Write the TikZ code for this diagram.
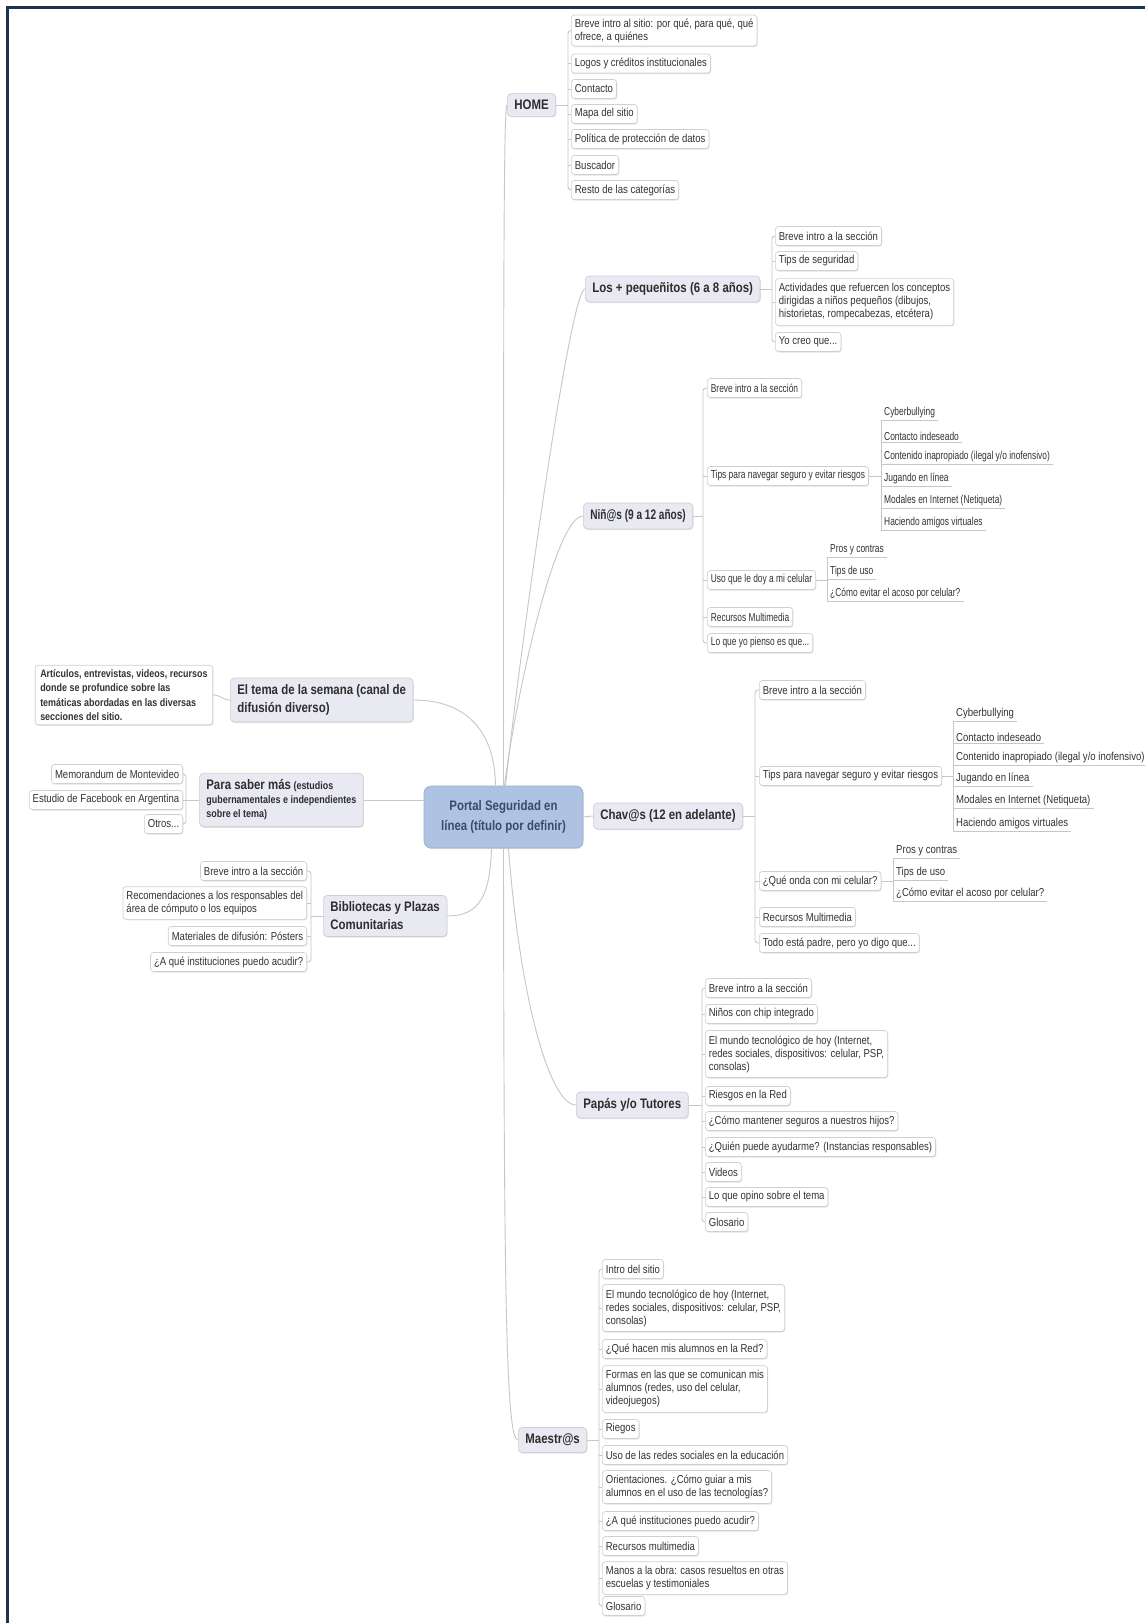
\documentclass[tikz,border=0pt]{standalone}
\usepackage{fontspec}
\setmainfont{Liberation Sans}[FakeStretch=0.83]
\newfontfamily\nfont{Liberation Sans}[FakeStretch=0.73]
\usetikzlibrary{shadows}
\definecolor{conncol}{HTML}{C6C6CC}
\definecolor{leafline}{HTML}{D0D0D0}
\definecolor{leaftext}{HTML}{333333}
\definecolor{mainfill}{HTML}{E8E9F1}
\definecolor{mainline}{HTML}{CDCED8}
\definecolor{cenfill}{HTML}{AEC3E3}
\definecolor{centext}{HTML}{3A4A68}
\definecolor{framecol}{HTML}{1F3454}
\begin{document}
\begin{tikzpicture}[x=1pt,y=-1pt,
  conn/.style={draw=conncol, line width=0.9pt},
  softshadow/.style={drop shadow={shadow xshift=0.7pt, shadow yshift=-1.1pt, opacity=0.16, fill=black!70}},
  leaf/.style={draw=leafline, fill=white, line width=0.7pt, rounded corners=3pt,
    inner xsep=3.5pt, inner ysep=3.5pt, minimum height=19pt, align=left,
    text=leaftext, font=\fontsize{11.5}{13}\selectfont, softshadow},
  nleaf/.style={leaf, font=\nfont\fontsize{11.5}{13}\selectfont},
  boldleaf/.style={leaf, font=\bfseries\fontsize{10.8}{14.5}\selectfont},
  sub/.style={inner xsep=3pt, inner ysep=1.5pt, anchor=south west, text=leaftext,
    font=\fontsize{11.5}{13}\selectfont},
  nsub/.style={sub, font=\nfont\fontsize{11.5}{13}\selectfont},
  topic/.style={draw=mainline, fill=mainfill, line width=0.7pt, rounded corners=4pt,
    inner xsep=7pt, inner ysep=6.5pt, align=left, text=black!82,
    font=\bfseries\fontsize{13.8}{18}\selectfont, softshadow},
  central/.style={fill=cenfill, draw=cenfill!88!black, line width=0.6pt, rounded corners=7pt,
    minimum width=159pt, minimum height=62pt, align=center, text=centext,
    font=\bfseries\fontsize{13.8}{20}\selectfont, softshadow}
]
\useasboundingbox (0,0) rectangle (1145,1623);
\fill[white] (0,0) rectangle (1145,1623);
\draw[framecol, line width=3pt] (7.5,1623) -- (7.5,7.5) -- (1145,7.5);

% ---------- central ----------
\node[central] (ce) at (503.5,817) {Portal Seguridad en\\línea (título por definir)};

% ---------- main topics ----------
\node[topic, anchor=west] (home) at (507,105) {HOME};
\node[topic, anchor=west] (lp) at (585,289) {Los + pequeñitos (6 a 8 años)};
\node[topic, anchor=west, font=\nfont\bfseries\fontsize{13.8}{18}\selectfont] (ni) at (583,516) {Niñ@s (9 a 12 años)};
\node[topic, anchor=west] (ch) at (593,816) {Chav@s (12 en adelante)};
\node[topic, anchor=west] (pa) at (576,1105) {Papás y/o Tutores};
\node[topic, anchor=west] (ma) at (518,1440) {Maestr@s};
\node[topic, anchor=west] (te) at (230,700) {El tema de la semana (canal de\\difusión diverso)};
\node[topic, anchor=west, font=\bfseries\fontsize{10.8}{14}\selectfont] (ps) at (199,800)
  {{\fontsize{13.8}{14}\selectfont Para saber más} (estudios\\gubernamentales e independientes\\sobre el tema)};
\node[topic, anchor=west] (bi) at (323,916) {Bibliotecas y Plazas\\Comunitarias};

% ---------- main connectors ----------
\draw[conn] (ce.north) .. controls (503.5,300) and (503.5,105) .. (home.west);
\draw[conn] ([xshift=2pt]ce.north) .. controls (520,650) and (570,289) .. (lp.west);
\draw[conn] ([xshift=1pt]ce.north) .. controls (515,700) and (555,516) .. (ni.west);
\draw[conn] ([xshift=-8pt]ce.north) .. controls (495,730) and (465,700) .. (te.east);
\draw[conn] (ps.east) -- (ps.east -| ce.west);
\draw[conn] (ce.east) -- (ch.west);
\draw[conn] ([xshift=-12pt]ce.south) .. controls (490,895) and (480,916) .. (bi.east);
\draw[conn] ([xshift=5pt]ce.south) .. controls (520,1000) and (550,1105) .. (pa.west);
\draw[conn] (ce.south) .. controls (504,1300) and (506,1440) .. (ma.west);

% ---------- HOME ----------
\node[leaf, anchor=west] (h1) at (571,30.5) {Breve intro al sitio: por qué, para qué, qué\\ofrece, a quiénes};
\node[leaf, anchor=west] (h2) at (571,63.5) {Logos y créditos institucionales};
\node[leaf, anchor=west] (h3) at (571,89) {Contacto};
\node[leaf, anchor=west] (h4) at (571,114) {Mapa del sitio};
\node[leaf, anchor=west] (h5) at (571,139) {Política de protección de datos};
\node[leaf, anchor=west] (h6) at (571,165) {Buscador};
\node[leaf, anchor=west] (h7) at (571,190) {Resto de las categorías};
\coordinate (hv) at (568,105);
\draw[conn] (home.east) -- (hv);
\draw[conn, rounded corners=3pt] (h1.west) -- (h1.west -| hv) -- (h7.west -| hv) -- (h7.west);
\foreach \n in {h2,h3,h4,h5,h6} \draw[conn] (\n.west) -- (\n.west -| hv);

% ---------- Los + pequenitos ----------
\node[leaf, anchor=west] (l1) at (775,236) {Breve intro a la sección};
\node[leaf, anchor=west] (l2) at (775,261) {Tips de seguridad};
\node[leaf, anchor=west, inner ysep=5pt] (l3) at (775,302) {Actividades que refuercen los conceptos\\dirigidas a niños pequeños (dibujos,\\historietas, rompecabezas, etcétera)};
\node[leaf, anchor=west] (l4) at (775,342) {Yo creo que...};
\coordinate (lv) at (772,289);
\draw[conn] (lp.east) -- (lv);
\draw[conn, rounded corners=3pt] (l1.west) -- (l1.west -| lv) -- (l4.west -| lv) -- (l4.west);
\foreach \n in {l2,l3} \draw[conn] (\n.west) -- (\n.west -| lv);

% ---------- Nin@s ----------
\node[nleaf, anchor=west] (n1) at (707,388) {Breve intro a la sección};
\node[nleaf, anchor=west] (n2) at (707,476) {Tips para navegar seguro y evitar riesgos};
\node[nleaf, anchor=west] (n3) at (707,580) {Uso que le doy a mi celular};
\node[nleaf, anchor=west] (n4) at (707,617) {Recursos Multimedia};
\node[nleaf, anchor=west] (n5) at (707,643) {Lo que yo pienso es que...};
\coordinate (nv) at (703,516);
\draw[conn] (ni.east) -- (nv);
\draw[conn, rounded corners=3pt] (n1.west) -- (n1.west -| nv) -- (n5.west -| nv) -- (n5.west);
\foreach \n in {n2,n3,n4} \draw[conn] (\n.west) -- (\n.west -| nv);

\node[nsub] (n21) at (881,420) {Cyberbullying};
\node[nsub] (n22) at (881,442) {Contacto indeseado};
\node[nsub] (n23) at (881,464) {Contenido inapropiado (ilegal y/o inofensivo)};
\node[nsub] (n24) at (881,486) {Jugando en línea};
\node[nsub] (n25) at (881,508) {Modales en Internet (Netiqueta)};
\node[nsub] (n26) at (881,530) {Haciendo amigos virtuales};
\draw[conn] (n2.east) -- (n2.east -| n21.south west);
\draw[conn] (n21.south west) -- (n26.south west);
\foreach \n in {n21,n22,n23,n24,n25,n26} \draw[conn] (\n.south west) -- (\n.south east);

\node[nsub] (n31) at (827,557) {Pros y contras};
\node[nsub] (n32) at (827,579) {Tips de uso};
\node[nsub] (n33) at (827,601) {¿Cómo evitar el acoso por celular?};
\draw[conn] (n3.east) -- (n3.east -| n31.south west);
\draw[conn] (n31.south west) -- (n33.south west);
\foreach \n in {n31,n32,n33} \draw[conn] (\n.south west) -- (\n.south east);

% ---------- Chav@s ----------
\node[leaf, anchor=west] (c1) at (759,690) {Breve intro a la sección};
\node[leaf, anchor=west] (c2) at (759,776) {Tips para navegar seguro y evitar riesgos};
\node[leaf, anchor=west] (c3) at (759,881) {¿Qué onda con mi celular?};
\node[leaf, anchor=west] (c4) at (759,917) {Recursos Multimedia};
\node[leaf, anchor=west] (c5) at (759,943) {Todo está padre, pero yo digo que...};
\coordinate (cv) at (755,816);
\draw[conn] (ch.east) -- (cv);
\draw[conn, rounded corners=3pt] (c1.west) -- (c1.west -| cv) -- (c5.west -| cv) -- (c5.west);
\foreach \n in {c2,c3,c4} \draw[conn] (\n.west) -- (\n.west -| cv);

\node[sub] (c21) at (953,721) {Cyberbullying};
\node[sub] (c22) at (953,743) {Contacto indeseado};
\node[sub] (c23) at (953,765) {Contenido inapropiado (ilegal y/o inofensivo)};
\node[sub] (c24) at (953,786) {Jugando en línea};
\node[sub] (c25) at (953,808) {Modales en Internet (Netiqueta)};
\node[sub] (c26) at (953,831) {Haciendo amigos virtuales};
\draw[conn] (c2.east) -- (c2.east -| c21.south west);
\draw[conn] (c21.south west) -- (c26.south west);
\foreach \n in {c21,c22,c23,c24,c25,c26} \draw[conn] (\n.south west) -- (\n.south east);

\node[sub] (c31) at (893,858) {Pros y contras};
\node[sub] (c32) at (893,880) {Tips de uso};
\node[sub] (c33) at (893,901) {¿Cómo evitar el acoso por celular?};
\draw[conn] (c3.east) -- (c3.east -| c31.south west);
\draw[conn] (c31.south west) -- (c33.south west);
\foreach \n in {c31,c32,c33} \draw[conn] (\n.south west) -- (\n.south east);

% ---------- Papas ----------
\node[leaf, anchor=west] (p1) at (705,988) {Breve intro a la sección};
\node[leaf, anchor=west] (p2) at (705,1014) {Niños con chip integrado};
\node[leaf, anchor=west, inner ysep=5pt] (p3) at (705,1054) {El mundo tecnológico de hoy (Internet,\\redes sociales, dispositivos: celular, PSP,\\consolas)};
\node[leaf, anchor=west] (p4) at (705,1096) {Riesgos en la Red};
\node[leaf, anchor=west] (p5) at (705,1121) {¿Cómo mantener seguros a nuestros hijos?};
\node[leaf, anchor=west] (p6) at (705,1147) {¿Quién puede ayudarme? (Instancias responsables)};
\node[leaf, anchor=west] (p7) at (705,1172) {Videos};
\node[leaf, anchor=west] (p8) at (705,1197) {Lo que opino sobre el tema};
\node[leaf, anchor=west] (p9) at (705,1222) {Glosario};
\coordinate (pv) at (702,1105);
\draw[conn] (pa.east) -- (pv);
\draw[conn, rounded corners=3pt] (p1.west) -- (p1.west -| pv) -- (p9.west -| pv) -- (p9.west);
\foreach \n in {p2,p3,p4,p5,p6,p7,p8} \draw[conn] (\n.west) -- (\n.west -| pv);

% ---------- Maestr@s ----------
\node[leaf, anchor=west] (m1) at (602,1269) {Intro del sitio};
\node[leaf, anchor=west, inner ysep=5pt] (m2) at (602,1308) {El mundo tecnológico de hoy (Internet,\\redes sociales, dispositivos: celular, PSP,\\consolas)};
\node[leaf, anchor=west] (m3) at (602,1349) {¿Qué hacen mis alumnos en la Red?};
\node[leaf, anchor=west, inner ysep=5pt] (m4) at (602,1389) {Formas en las que se comunican mis\\alumnos (redes, uso del celular,\\videojuegos)};
\node[leaf, anchor=west] (m5) at (602,1429) {Riegos};
\node[leaf, anchor=west] (m6) at (602,1455) {Uso de las redes sociales en la educación};
\node[leaf, anchor=west, inner ysep=4.5pt] (m7) at (602,1487) {Orientaciones. ¿Cómo guiar a mis\\alumnos en el uso de las tecnologías?};
\node[leaf, anchor=west] (m8) at (602,1521) {¿A qué instituciones puedo acudir?};
\node[leaf, anchor=west] (m9) at (602,1546) {Recursos multimedia};
\node[leaf, anchor=west, inner ysep=4.5pt] (m10) at (602,1578) {Manos a la obra: casos resueltos en otras\\escuelas y testimoniales};
\node[leaf, anchor=west] (m11) at (602,1606) {Glosario};
\coordinate (mv) at (599,1440);
\draw[conn] (ma.east) -- (mv);
\draw[conn, rounded corners=3pt] (m1.west) -- (m1.west -| mv) -- (m11.west -| mv) -- (m11.west);
\foreach \n in {m2,m3,m4,m5,m6,m7,m8,m9,m10} \draw[conn] (\n.west) -- (\n.west -| mv);

% ---------- El tema de la semana ----------
\node[boldleaf, anchor=east, inner ysep=4pt, inner xsep=5pt] (ta) at (213,695) {Artículos, entrevistas, videos, recursos\\donde se profundice sobre las\\temáticas abordadas en las diversas\\secciones del sitio.};
\draw[conn] (te.west) .. controls (222,700) and (221,695) .. (ta.east);

% ---------- Para saber mas ----------
\node[leaf, anchor=east] (ps1) at (183,774) {Memorandum de Montevideo};
\node[leaf, anchor=east] (ps2) at (183,800) {Estudio de Facebook en Argentina};
\node[leaf, anchor=east] (ps3) at (183,824) {Otros...};
\coordinate (psv) at (186,800);
\draw[conn] (ps.west) -- (psv);
\draw[conn, rounded corners=3pt] (ps1.east) -- (ps1.east -| psv) -- (ps3.east -| psv) -- (ps3.east);
\draw[conn] (ps2.east) -- (ps2.east -| psv);

% ---------- Bibliotecas ----------
\node[leaf, anchor=east] (b1) at (307,871) {Breve intro a la sección};
\node[leaf, anchor=east, inner ysep=4.5pt] (b2) at (307,903) {Recomendaciones a los responsables del\\área de cómputo o los equipos};
\node[leaf, anchor=east] (b3) at (307,936) {Materiales de difusión: Pósters};
\node[leaf, anchor=east] (b4) at (307,962) {¿A qué instituciones puedo acudir?};
\coordinate (biv) at (311,916);
\draw[conn] (bi.west) -- (biv);
\draw[conn, rounded corners=3pt] (b1.east) -- (b1.east -| biv) -- (b4.east -| biv) -- (b4.east);
\foreach \n in {b2,b3} \draw[conn] (\n.east) -- (\n.east -| biv);
\end{tikzpicture}
\end{document}
